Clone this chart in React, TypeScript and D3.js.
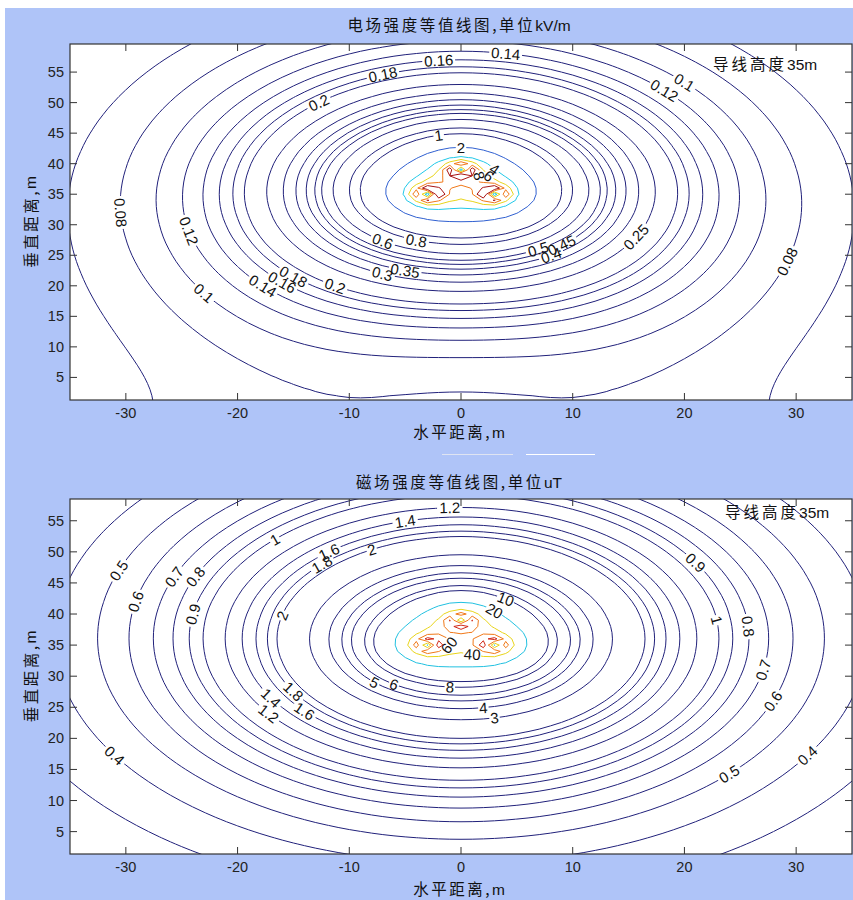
import React, { useMemo } from "react";
import * as d3 from "d3";

// ---------------- data ----------------
const conductorX = [-3, 0, 3];
const conductorY = [35, 39, 35];
const phaseDeg = [0, 120, -120];
const phaseVoltage = 62; // kV
const conductorRadius = 0.02; // m, equivalent radius
const lineCurrent = 80; // scale of magnetic field (uT * m)
const nodeClamp = 0.45; // m

const eLevels = [0.06, 0.08, 0.1, 0.12, 0.14, 0.16, 0.18, 0.2, 0.25, 0.3, 0.35, 0.4, 0.45, 0.5, 0.6, 0.8, 1, 2, 4, 6, 8, 10];
const bLevels = [0.3, 0.4, 0.5, 0.6, 0.7, 0.8, 0.9, 1, 1.2, 1.4, 1.6, 1.8, 2, 3, 4, 5, 6, 8, 10, 20, 40, 60, 80, 100];
const xTicks = [-30, -20, -10, 0, 10, 20, 30];
const yTicks = [5, 10, 15, 20, 25, 30, 35, 40, 45, 50, 55];

// label anchors: [level, x, y]
const eLabelSpots: [number, number, number][] = [
  [0.18, -6.6, 54.0], [0.16, -2.1, 56.1], [0.14, 3.6, 57.3], [0.2, -12.4, 49.6],
  [0.12, 18.1, 51.6], [0.1, 19.8, 52.6], [0.08, -30.3, 32.1], [0.12, -24.3, 28.7],
  [0.1, -22.9, 18.9], [0.14, -17.3, 20.3], [0.16, -15.9, 20.8], [0.18, -15.0, 22.2],
  [0.2, -11.3, 19.9], [0.3, -7.4, 22.3], [0.35, -4.8, 23.0], [0.6, -7.0, 27.5],
  [0.8, -3.7, 27.3], [0.5, 6.4, 26.2], [0.45, 8.6, 28.0], [0.4, 8.0, 25.4],
  [0.25, 15.0, 28.7], [0.08, 28.8, 24.2], [1, -2.3, 44.2], [2, 0.1, 42.3],
  [4, 2.6, 39.2], [6, 2.5, 37.9], [8, 1.8, 37.6],
];
const bLabelSpots: [number, number, number][] = [
  [1.2, -0.8, 57.0], [1.4, -5.0, 54.8], [1, -16.7, 52.3], [1.6, -11.7, 49.3],
  [1.8, -12.5, 48.0], [2, -8.0, 50.3], [0.5, -30.5, 46.4], [0.6, -29.0, 42.0],
  [0.7, -25.9, 45.8], [0.8, -23.4, 45.8], [0.9, -23.6, 39.6], [2, -15.9, 39.4],
  [0.9, 20.8, 47.6], [1, 22.7, 38.8], [0.8, 25.2, 38.0], [0.7, 27.0, 31.5],
  [0.6, 27.8, 26.2], [0.5, 24.1, 14.2], [0.4, 31.0, 17.1], [0.4, -31.2, 17.1],
  [1.8, -15.0, 27.0], [1.4, -17.1, 25.9], [1.2, -17.4, 24.1], [1.6, -13.8, 24.3],
  [5, -7.7, 29.1], [6, -5.9, 28.6], [8, -0.5, 28.6], [4, 1.7, 25.0], [3, 2.6, 23.3],
  [10, 3.9, 41.8], [20, 3.0, 39.4], [60, -1.2, 34.7], [40, 1.1, 33.1],
];

// ---------------- styles / layout ----------------
const W = 853;
const H = 900;
const BG = "#afc4f8";
const NAVY = "#20207a";
const eColorMap: Record<string, string> = { "2": "#2f5fd0", "4": "#1fc8e8", "6": "#e8d41a", "8": "#f07818", "10": "#a81414" };
const bColorMap: Record<string, string> = { "20": "#20c0e0", "40": "#e8d41a", "60": "#f07818", "80": "#d02818", "100": "#8a1010" };
const FONT = "'Liberation Sans', Arial, Helvetica, sans-serif";
const CJK = "'Noto Sans CJK SC', 'Noto Sans', sans-serif";
const TICK_FS = 14.5;
const LABEL_FS = 15;

const GX0 = -37, GX1 = 37, GY0 = -1, GY1 = 61, GSTEP = 1;

function solve(A: number[][], b: number[]) {
  const n = b.length;
  const M = A.map((r, i) => [...r, b[i]]);
  for (let c = 0; c < n; c++) {
    let p = c;
    for (let r = c + 1; r < n; r++) if (Math.abs(M[r][c]) > Math.abs(M[p][c])) p = r;
    [M[c], M[p]] = [M[p], M[c]];
    for (let r = c + 1; r < n; r++) {
      const f = M[r][c] / M[c][c];
      for (let k = c; k <= n; k++) M[r][k] -= f * M[c][k];
    }
  }
  const x = new Array(n).fill(0);
  for (let r = n - 1; r >= 0; r--) {
    let s = M[r][n];
    for (let k = r + 1; k < n; k++) s -= M[r][k] * x[k];
    x[r] = s / M[r][r];
  }
  return x;
}

function chargePhasors() {
  const n = conductorX.length;
  const P: number[][] = [];
  for (let i = 0; i < n; i++) {
    P.push([]);
    for (let j = 0; j < n; j++) {
      if (i === j) P[i].push(Math.log((2 * conductorY[i]) / conductorRadius));
      else {
        const dx = conductorX[i] - conductorX[j];
        const d = Math.hypot(dx, conductorY[i] - conductorY[j]);
        const di = Math.hypot(dx, conductorY[i] + conductorY[j]);
        P[i].push(Math.log(di / d));
      }
    }
  }
  const ph = phaseDeg.map((d) => (d * Math.PI) / 180);
  const re = solve(P, ph.map((a) => phaseVoltage * Math.cos(a)));
  const im = solve(P, ph.map((a) => phaseVoltage * Math.sin(a)));
  return { re, im };
}

function computeField(kind: "E" | "B") {
  const nx = Math.round((GX1 - GX0) / GSTEP) + 1;
  const ny = Math.round((GY1 - GY0) / GSTEP) + 1;
  const vals = new Array(nx * ny);
  const ph = phaseDeg.map((d) => (d * Math.PI) / 180);
  const q = chargePhasors();
  const cr = kind === "E" ? q.re : ph.map((a) => lineCurrent * Math.cos(a));
  const ci = kind === "E" ? q.im : ph.map((a) => lineCurrent * Math.sin(a));
  const rmin2 = nodeClamp * nodeClamp;
  for (let j = 0; j < ny; j++) {
    const y = GY0 + j * GSTEP;
    for (let i = 0; i < nx; i++) {
      const x = GX0 + i * GSTEP;
      let exr = 0, exi = 0, eyr = 0, eyi = 0;
      for (let k = 0; k < conductorX.length; k++) {
        const dx = x - conductorX[k];
        const dy = y - conductorY[k];
        const r2 = Math.max(dx * dx + dy * dy, rmin2);
        const dyi = y + conductorY[k];
        const r2i = dx * dx + dyi * dyi;
        let fx: number, fy: number;
        if (kind === "E") {
          fx = dx / r2 - dx / r2i;
          fy = dy / r2 - dyi / r2i;
        } else {
          fx = -dy / r2;
          fy = dx / r2;
        }
        exr += cr[k] * fx; exi += ci[k] * fx; eyr += cr[k] * fy; eyi += ci[k] * fy;
      }
      vals[j * nx + i] = Math.sqrt(exr * exr + exi * exi + eyr * eyr + eyi * eyi);
    }
  }
  return { nx, ny, vals };
}

function fmt(v: number) {
  return String(+v.toFixed(3));
}

type PanelProps = {
  top: number; bottom: number; yMin: number; yMax: number;
  kind: "E" | "B"; levels: number[]; colorMap: Record<string, string>;
  labels: [number, number, number][];
  titleCjk: string; titleUnit: string; titleY: number;
  noteX: number; noteY: number;
  xlabY: number; id: string;
};

const LEFT = 70, RIGHT = 852;

function Panel(p: PanelProps) {
  const xs = d3.scaleLinear().domain([-35, 35]).range([LEFT, RIGHT]);
  const ys = d3.scaleLinear().domain([p.yMin, p.yMax]).range([p.bottom, p.top]);
  const built = useMemo(() => {
    const { nx, ny, vals } = computeField(p.kind);
    const gen = d3.contours().size([nx, ny]).thresholds(p.levels);
    const cs = gen(vals as any);
    return cs.map((c) => {
      const rings: [number, number][][] = [];
      c.coordinates.forEach((poly) =>
        poly.forEach((ring) =>
          rings.push(
            ring.map(([cx, cy]) => [xs(GX0 + (cx - 0.5) * GSTEP), ys(GY0 + (cy - 0.5) * GSTEP)] as [number, number])
          )
        )
      );
      return { value: c.value, rings };
    });
  }, [p.kind]);

  const inside = (q: [number, number]) => q[0] > LEFT + 1 && q[0] < RIGHT - 1 && q[1] > p.top + 1 && q[1] < p.bottom - 1;

  const labelInfo = p.labels.map(([lv, lx, ly], idx) => {
    const tx = xs(lx), ty = ys(ly);
    const c = built.find((b) => Math.abs(b.value - lv) < 1e-9);
    let best: [number, number] = [tx, ty];
    let ang = 0;
    if (c) {
      let bd = Infinity, br = -1, bi = -1;
      c.rings.forEach((ring, ri) =>
        ring.forEach((q, qi) => {
          if (!inside(q)) return;
          const d = (q[0] - tx) ** 2 + (q[1] - ty) ** 2;
          if (d < bd) { bd = d; br = ri; bi = qi; }
        })
      );
      if (br >= 0) {
        const ring = c.rings[br];
        const n = ring.length;
        best = ring[bi];
        const a = ring[(bi - 2 + n) % n], b = ring[(bi + 2) % n];
        ang = (Math.atan2(b[1] - a[1], b[0] - a[0]) * 180) / Math.PI;
        if (ang > 90) ang -= 180;
        if (ang <= -90) ang += 180;
      }
    }
    const text = fmt(lv);
    const tw = text.length * LABEL_FS * 0.5 + 1;
    return { idx, lv, x: best[0], y: best[1], ang, text, tw };
  });

  const clipId = `clip-${p.id}`;
  const colorOf = (v: number) => p.colorMap[fmt(v)] || NAVY;

  return (
    <g>
      <rect x={LEFT} y={p.top} width={RIGHT - LEFT} height={p.bottom - p.top} fill="#fff" />
      <defs>
        <clipPath id={clipId}>
          <rect x={LEFT} y={p.top} width={RIGHT - LEFT} height={p.bottom - p.top} />
        </clipPath>
        {built.map((c, ci) => (
          <mask id={`m-${p.id}-${ci}`} key={ci} maskUnits="userSpaceOnUse" x={0} y={0} width={W} height={H}>
            <rect x={0} y={0} width={W} height={H} fill="#fff" />
            {labelInfo
              .filter((l) => Math.abs(l.lv - c.value) < 1e-9)
              .map((l) => (
                <rect key={l.idx} x={-l.tw / 2 - 1} y={-LABEL_FS * 0.45} width={l.tw + 2} height={LABEL_FS * 0.9} fill="#000"
                  transform={`translate(${l.x},${l.y}) rotate(${l.ang})`} />
              ))}
          </mask>
        ))}
      </defs>
      <g clipPath={`url(#${clipId})`}>
        {built.map((c, ci) => (
          <g key={ci} mask={`url(#m-${p.id}-${ci})`}>
            {c.rings.map((ring, ri) => (
              <path key={ri} d={"M" + ring.map((q) => q[0].toFixed(2) + "," + q[1].toFixed(2)).join("L") + "Z"}
                fill="none" stroke={colorOf(c.value)} strokeWidth={1} strokeLinejoin="round" />
            ))}
          </g>
        ))}
        {labelInfo.map((l) => (
          <text key={l.idx} x={0} y={0} transform={`translate(${l.x},${l.y}) rotate(${l.ang})`} textAnchor="middle"
            dominantBaseline="central" fontFamily={FONT} fontSize={LABEL_FS} fill="#111">
            {l.text}
          </text>
        ))}
      </g>
      <rect x={LEFT} y={p.top} width={RIGHT - LEFT} height={p.bottom - p.top} fill="none" stroke="#333" strokeWidth={1.2} />
      {xTicks.map((t) => (
        <g key={"x" + t}>
          <line x1={xs(t)} x2={xs(t)} y1={p.bottom} y2={p.bottom - 7} stroke="#333" />
          <line x1={xs(t)} x2={xs(t)} y1={p.top} y2={p.top + 7} stroke="#333" />
          <text x={xs(t)} y={p.bottom + 18} textAnchor="middle" fontFamily={FONT} fontSize={TICK_FS} fill="#222">
            {t}
          </text>
        </g>
      ))}
      {yTicks.map((t) => (
        <g key={"y" + t}>
          <line x1={LEFT} x2={LEFT + 7} y1={ys(t)} y2={ys(t)} stroke="#333" />
          <line x1={RIGHT} x2={RIGHT - 7} y1={ys(t)} y2={ys(t)} stroke="#333" />
          <text x={LEFT - 6} y={ys(t)} textAnchor="end" dominantBaseline="central" fontFamily={FONT} fontSize={TICK_FS} fill="#222">
            {t}
          </text>
        </g>
      ))}
      <text x={459} y={p.titleY} textAnchor="middle" fontSize={15.5} fill="#111">
        <tspan fontFamily={CJK} letterSpacing={2.6}>{p.titleCjk}</tspan>
        <tspan fontFamily={FONT}>{p.titleUnit}</tspan>
      </text>
      <text x={p.noteX} y={p.noteY} fontSize={15.5} fill="#111">
        <tspan fontFamily={CJK} letterSpacing={3}>导线高度</tspan>
        <tspan fontFamily={FONT}>35m</tspan>
      </text>
      <text x={459} y={p.xlabY} textAnchor="middle" fontSize={15.5} fill="#111">
        <tspan fontFamily={CJK} letterSpacing={2.5}>水平距离,</tspan>
        <tspan fontFamily={FONT}>m</tspan>
      </text>
      <text transform={`translate(30,${(p.top + p.bottom) / 2}) rotate(-90)`} textAnchor="middle" dominantBaseline="central"
        fontSize={15.5} fill="#111">
        <tspan fontFamily={CJK} letterSpacing={2.5}>垂直距离,</tspan>
        <tspan fontFamily={FONT}>m</tspan>
      </text>
    </g>
  );
}

export default function App() {
  return (
    <svg width={W} height={H} viewBox={`0 0 ${W} ${H}`} style={{ position: "absolute", left: 0, top: 0, display: "block" }}>
      <rect x={0} y={0} width={W} height={H} fill="#fff" />
      <rect x={5} y={8} width={W - 5} height={H - 8} fill={BG} />
      <line x1={442} x2={513} y1={454.5} y2={454.5} stroke="#dfe4f2" strokeWidth={1} />
      <line x1={526} x2={595} y1={454.5} y2={454.5} stroke="#ffffff" strokeWidth={1.2} />
      <Panel id="e" kind="E" top={44} bottom={400} yMin={1.3} yMax={59.6} levels={eLevels} colorMap={eColorMap}
        labels={eLabelSpots} titleCjk="电场强度等值线图,单位" titleUnit="kV/m" titleY={31}
        noteX={713} noteY={70} xlabY={438} />
      <Panel id="b" kind="B" top={499} bottom={854} yMin={1.4} yMax={58.5} levels={bLevels} colorMap={bColorMap}
        labels={bLabelSpots} titleCjk="磁场强度等值线图,单位" titleUnit="uT" titleY={488}
        noteX={725} noteY={518} xlabY={895} />
    </svg>
  );
}
